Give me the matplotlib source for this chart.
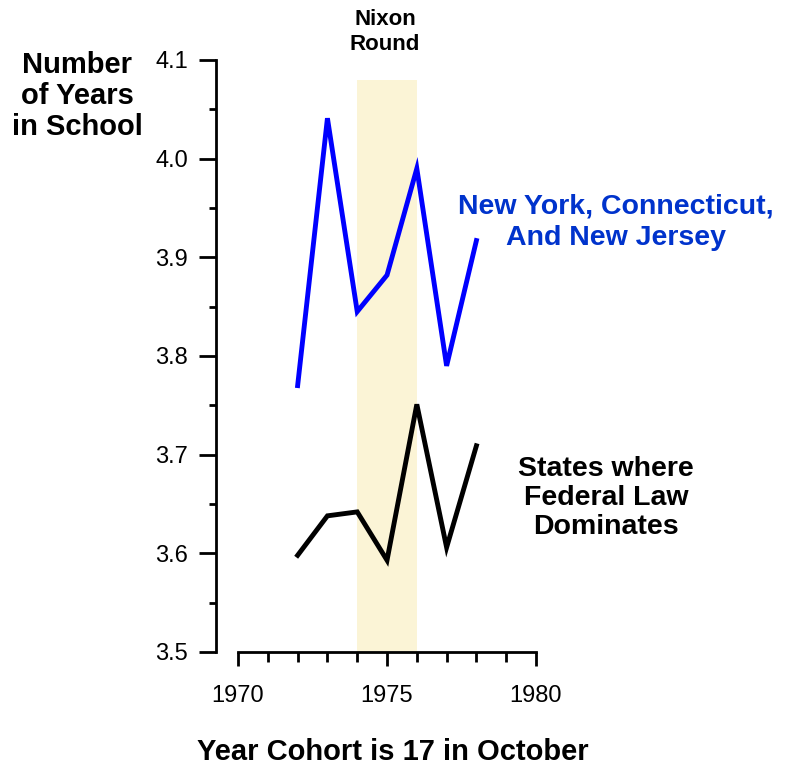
import matplotlib
matplotlib.use("Agg")
import matplotlib.pyplot as plt
from matplotlib.ticker import MultipleLocator

years = [1972, 1973, 1974, 1975, 1976, 1977, 1978]
ny_ct_nj = [3.770, 4.041, 3.845, 3.882, 3.990, 3.790, 3.917]
federal = [3.598, 3.638, 3.642, 3.593, 3.751, 3.606, 3.709]
nixon_start, nixon_end = 1974, 1976

plt.rcParams['font.family'] = ['Liberation Sans', 'DejaVu Sans']

fig = plt.figure(figsize=(7.94, 7.72), dpi=100)
W, H = 794, 772
ax = fig.add_axes([216 / W, 1 - 652 / H, (536 - 216) / W, (652 - 60) / H])

ax.set_xlim(1969.26, 1980)
ax.set_ylim(3.5, 4.1)

# Nixon Round shading
ax.fill_between([nixon_start, nixon_end], 3.5, 4.08, color='#fbf4d6', lw=0, zorder=0)

ax.plot(years, ny_ct_nj, color='#0000ff', lw=3.5, solid_joinstyle='miter', clip_on=False)
ax.plot(years, federal, color='black', lw=3.5, solid_joinstyle='miter', clip_on=False)

for s in ['top', 'right']:
    ax.spines[s].set_visible(False)
ax.spines['left'].set_linewidth(2)
ax.spines['bottom'].set_linewidth(2)
ax.spines['bottom'].set_bounds(1970, 1980)

ax.set_xticks([1970, 1975, 1980])
ax.xaxis.set_minor_locator(MultipleLocator(1))
ax.set_yticks([3.5, 3.6, 3.7, 3.8, 3.9, 4.0, 4.1])
ax.set_yticklabels(['3.5', '3.6', '3.7', '3.8', '3.9', '4.0', '4.1'])
ax.yaxis.set_minor_locator(MultipleLocator(0.05))
ax.tick_params(axis='y', which='major', length=12, width=2, labelsize=17, pad=8)
ax.tick_params(axis='y', which='minor', length=5, width=2)
ax.tick_params(axis='x', which='major', length=10, width=2, labelsize=17, pad=14)
ax.tick_params(axis='x', which='minor', length=7, width=2)

fig.text(385 / W, 1 - 32 / H, 'Nixon\nRound', ha='center', va='center', fontsize=16,
         fontweight='bold', linespacing=1.2)
fig.text(77 / W, 1 - 96 / H, 'Number\nof Years\nin School', ha='center', va='center',
         fontsize=21, fontweight='bold', linespacing=1.15)
fig.text(393 / W, 1 - 752 / H, 'Year Cohort is 17 in October', ha='center', va='center',
         fontsize=21, fontweight='bold')
fig.text(616 / W, 1 - 222 / H, 'New York, Connecticut,\nAnd New Jersey', ha='center',
         va='center', fontsize=20.5, fontweight='bold', color='#0033cc', linespacing=1.27)
fig.text(606 / W, 1 - 498 / H, 'States where\nFederal Law\nDominates', ha='center',
         va='center', fontsize=20.5, fontweight='bold', color='black', linespacing=1.15)

fig.savefig('out.png', dpi=100)
